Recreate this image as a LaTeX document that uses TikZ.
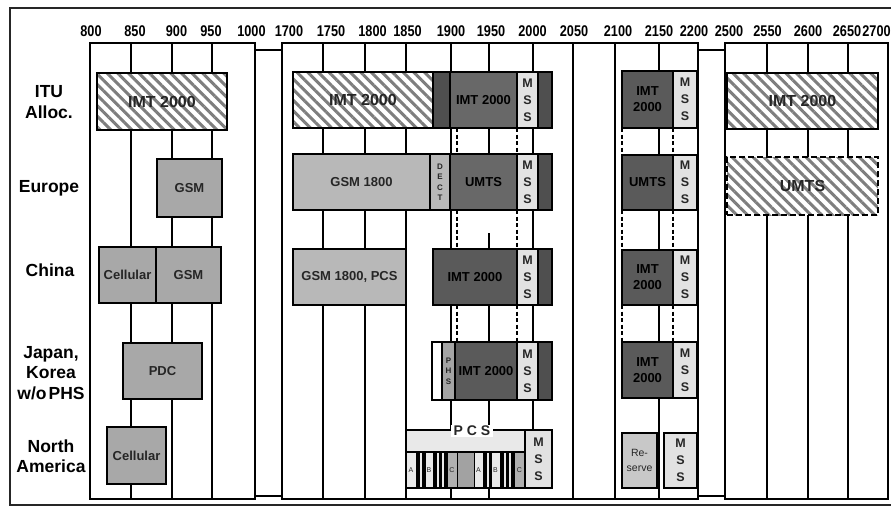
\documentclass[tikz,border=0pt]{standalone}
\usepackage{fontspec}
\setmainfont{Liberation Sans}
\newfontfamily\axisfont{Liberation Sans}[FakeStretch=0.82]
\usepackage{tikz}
\usetikzlibrary{patterns.meta}
\usepackage{xcolor}
\definecolor{inkgrey}{HTML}{262626}
\definecolor{hatchgrey}{HTML}{7E7E7E}
\definecolor{bandgsm}{HTML}{A8A8A8}
\definecolor{bandpale}{HTML}{B8B8B8}
\definecolor{bandlite}{HTML}{E2E2E2}
\definecolor{bandmid}{HTML}{686868}
\definecolor{bandimt}{HTML}{5A5A5A}
\definecolor{banddark}{HTML}{4F4F4F}
\definecolor{bandphs}{HTML}{A4A4A4}
\definecolor{pcspale}{HTML}{E9E9E9}
\definecolor{pcsgrey}{HTML}{B0B0B0}
\definecolor{pcsmid}{HTML}{A2A2A2}
\definecolor{reservegrey}{HTML}{C8C8C8}

\begin{document}
\begin{tikzpicture}[
    x=1pt, y=-1pt,
    frame/.style={line width=2.2pt, draw=black!85},
    section/.style={line width=2.2pt},
    grid/.style={line width=1.8pt},
    dashcut/.style={line width=1.8pt, dash pattern=on 4pt off 2.5pt},
    sz/.style n args={2}{minimum width=#1pt, minimum height=#2pt},
    band/.style={draw=black, line width=2pt, inner sep=0pt, align=center, text=inkgrey, font=\bfseries\fontsize{13}{16}\selectfont},
    darkband/.style={band, text=black},
    hatched/.style={band, preaction={fill=white}, pattern={Lines[angle=-45,distance=7.5pt,line width=3pt]}, pattern color=hatchgrey, font=\bfseries\fontsize{16}{18}\selectfont},
    planned/.style={hatched, draw=none, postaction={draw=black, line width=2pt, dash pattern=on 6pt off 3pt}},
    mss/.style={band, fill=bandlite, font=\bfseries\fontsize{12.5}{17}\selectfont},
    vsmall/.style={font=\bfseries\fontsize{8}{10.5}\selectfont},
    pcsblk/.style={draw=black, line width=0.8pt, inner sep=0pt, minimum height=36pt, text=inkgrey, font=\fontsize{7}{8}\selectfont},
    pcstag/.style={fill=white, inner xsep=3pt, inner ysep=1pt, font=\bfseries\fontsize{14}{16}\selectfont, text=inkgrey},
    freq/.style={inner sep=0pt, font=\axisfont\bfseries\fontsize{15.5}{16}\selectfont},
    rowlab/.style={align=center, inner sep=0pt, font=\bfseries\fontsize{17.5}{20.5}\selectfont}
]
    \useasboundingbox (0,0) rectangle (891,507);
    \clip (0,0) rectangle (891,507);

    % frame
    \draw[frame] (10,8) rectangle (900,505);

    % gaps between the ranges
    \draw[section, fill=white] (255,50) rectangle (282,496);
    \draw[section, fill=white] (698,50) rectangle (725,496);

    % ranges
    \draw[section, fill=white] (90,43) rectangle (255,499);
    \draw[section, fill=white] (282,43) rectangle (698,499);
    \draw[section, fill=white] (725,43) rectangle (888,499);

    % grid lines
    \foreach \x in {131,172,212,323,365,406,451,573,615,659,767,808,848}
        \draw[grid] (\x,43) -- (\x,499);
    \draw[grid] (533,43) -- (533,430);
    \draw[grid] (489,43) -- (489,210) (489,233) -- (489,499);
    \foreach \x in {457,517,622,673}
        \draw[dashcut] (\x,128) -- (\x,155) (\x,210) -- (\x,249) (\x,305) -- (\x,342);

    % frequency labels
    \foreach \f/\x in {800/91, 850/135, 900/176.5, 950/211, 1000/251.5, 1700/289, 1750/331, 1800/372.5, 1850/407.5, 1900/451, 1950/491, 2000/532.5, 2050/574, 2100/618, 2150/659, 2200/694, 2500/729, 2550/767.5, 2600/808, 2650/847, 2700/876.5}
        \node[freq] (f\f) at (\x,31) {\f};

    % regions
    \node[rowlab] (ritu) at (49,102) {ITU\\Alloc.};
    \node[rowlab] (reu) at (49,188) {Europe};
    \node[rowlab] (rcn) at (50,270) {China};
    \node[rowlab] (rjp) at (51,373) {Japan,\\Korea\\w/o\hspace{2pt}PHS};
    \node[rowlab] (rna) at (51,456) {North\\America};

    % 800 - 1000
    \node[hatched, sz={130}{57}] (itu1) at (162,101.5) {IMT 2000};
    \node[band, fill=bandgsm, sz={65}{58}] (eu1) at (189.5,188) {GSM};
    \node[band, fill=bandgsm, sz={57}{56}] (cn1a) at (127.5,275) {Cellular};
    \node[band, fill=bandgsm, sz={65}{56}] (cn1b) at (188.5,275) {GSM};
    \node[band, fill=bandgsm, sz={79}{56}] (jp1) at (162.5,371) {PDC};
    \node[band, fill=bandgsm, sz={59}{57}] (na1) at (136.5,455.5) {Cellular};

    % 1700 - 2050, ITU
    \node[hatched, sz={140}{56}] (itu2a) at (363,100) {IMT 2000};
    \node[band, fill=banddark, sz={17}{56}] (itu2b) at (441.5,100) {};
    \node[darkband, fill=bandmid, sz={67}{56}] (itu2c) at (483.5,100) {IMT 2000};
    \node[mss, sz={21}{56}] (itu2d) at (527.5,100) {M\\S\\S};
    \node[band, fill=banddark, sz={14}{56}] (itu2e) at (545,100) {};

    % Europe
    \node[band, fill=bandpale, sz={137}{56}] (eu2a) at (361.5,182) {GSM 1800};
    \node[band, vsmall, fill=bandpale, sz={20}{56}] (eu2b) at (440,182) {D\\E\\C\\T};
    \node[darkband, fill=bandmid, sz={67}{56}] (eu2c) at (483.5,182) {UMTS};
    \node[mss, sz={21}{56}] (eu2d) at (527.5,182) {M\\S\\S};
    \node[band, fill=banddark, sz={14}{56}] (eu2e) at (545,182) {};

    % China
    \node[band, fill=bandpale, sz={113}{56}] (cn2a) at (349.5,277) {GSM 1800, PCS};
    \node[darkband, fill=bandimt, sz={84}{56}] (cn2b) at (475,277) {IMT 2000};
    \node[mss, sz={21}{56}] (cn2c) at (527.5,277) {M\\S\\S};
    \node[band, fill=banddark, sz={14}{56}] (cn2d) at (545,277) {};

    % Japan, Korea
    \node[band, fill=white, sz={10}{58}] (jp2a) at (437,371) {};
    \node[band, vsmall, fill=bandphs, sz={13}{58}] (jp2b) at (448.5,371) {P\\H\\S};
    \node[darkband, fill=bandimt, sz={62}{58}] (jp2c) at (486,371) {IMT 2000};
    \node[mss, sz={21}{58}] (jp2d) at (527.5,371) {M\\S\\S};
    \node[band, fill=banddark, sz={14}{58}] (jp2e) at (545,371) {};

    % North America
    \node[band, fill=pcspale, sz={119}{22}] (pcs) at (465.5,441) {};
    \foreach \a/\b/\c/\t in {406/416/pcspale/A, 416/419/black/{}, 419/422/pcspale/{}, 422/425/black/{}, 425/433/pcspale/B, 433/436/black/{}, 436/439/pcspale/{}, 439/441/black/{}, 441/444/pcspale/{}, 444/447/black/{}, 447/457/pcsgrey/C, 457/474/pcsmid/{}, 474/483/pcspale/A, 483/486/black/{}, 486/489/pcspale/{}, 489/491/black/{}, 491/500/pcspale/B, 500/503/black/{}, 503/506/pcspale/{}, 506/508/black/{}, 508/511/pcspale/{}, 511/514/black/{}, 514/525/pcsgrey/C}
        \node[pcsblk, fill=\c, minimum width={(\b-\a)*1pt}] (blk\a) at ({(\a+\b)/2},470) {\t};
    \node[band, sz={119}{58}] (pcsbox) at (465.5,459) {};
    \node[pcstag] (pcslab) at (472,431) {P C S};
    \node[mss, sz={27}{58}] (na2) at (538.5,459) {M\\S\\S};

    % 2110 - 2170
    \node[darkband, fill=bandimt, sz={51}{57}] (itu4a) at (647.5,99.5) {IMT\\2000};
    \node[mss, sz={24}{57}] (itu4b) at (685,99.5) {M\\S\\S};
    \node[darkband, fill=bandimt, sz={51}{55}] (eu4a) at (647.5,182.5) {UMTS};
    \node[mss, sz={24}{55}] (eu4b) at (685,182.5) {M\\S\\S};
    \node[darkband, fill=bandimt, sz={51}{55}] (cn4a) at (647.5,277.5) {IMT\\2000};
    \node[mss, sz={24}{55}] (cn4b) at (685,277.5) {M\\S\\S};
    \node[darkband, fill=bandimt, sz={51}{56}] (jp4a) at (647.5,370) {IMT\\2000};
    \node[mss, sz={24}{56}] (jp4b) at (685,370) {M\\S\\S};
    \node[band, fill=reservegrey, sz={35}{55}, font=\fontsize{10.5}{15}\selectfont] (na4a) at (639.5,460.5) {Re-\\serve};
    \node[mss, sz={33}{55}] (na4b) at (680.5,460.5) {M\\S\\S};

    % 2500 - 2700
    \node[hatched, sz={151}{56}] (itu3) at (802.5,101) {IMT 2000};
    \node[planned, sz={151}{58}] (eu3) at (802.5,186) {UMTS};

\end{tikzpicture}
\end{document}
